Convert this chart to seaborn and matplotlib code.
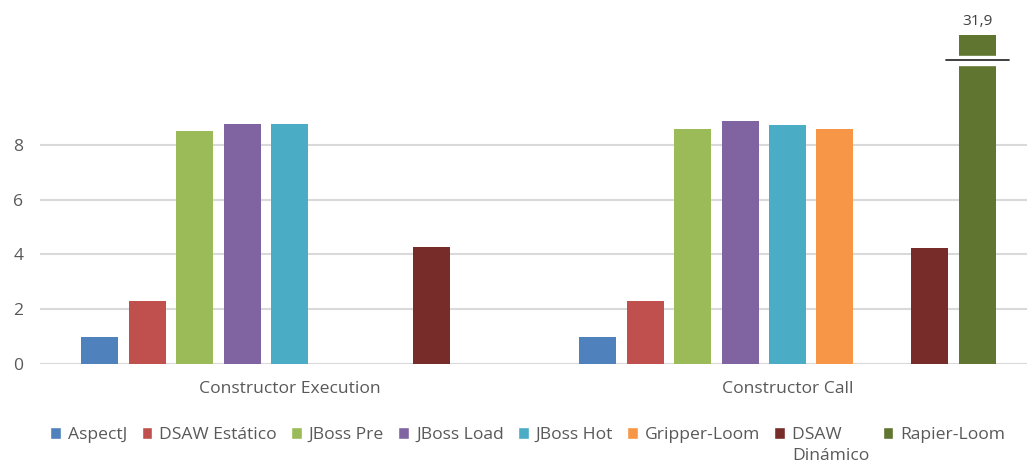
import pandas as pd
import numpy as np
import matplotlib.pyplot as plt
import seaborn as sns
from matplotlib.patches import Patch

# --- data ---
categories = ["Constructor Execution", "Constructor Call"]
series = ["AspectJ", "DSAW Estático", "JBoss Pre", "JBoss Load", "JBoss Hot",
          "Gripper-Loom", "(vacío)", "DSAW Dinámico", "Rapier-Loom"]
aspectj = [1.0, 1.0]
dsaw_estatico = [2.3, 2.3]
jboss_pre = [8.5, 8.57]
jboss_load = [8.77, 8.85]
jboss_hot = [8.74, 8.73]
gripper_loom = [np.nan, 8.56]
empty_slot = [np.nan, np.nan]
dsaw_dinamico = [4.25, 4.22]
rapier_loom = [np.nan, 31.9]

colors = ["#4F81BD", "#C0504D", "#9BBB59", "#8064A2", "#4BACC6",
          "#F79646", "#FFFFFF", "#772C2A", "#5F7530"]
# "DSAW Dinámico" wraps onto two lines; the spaces keep the column as wide as "Dinámico"
legend_labels = ["AspectJ", "DSAW Estático", "JBoss Pre", "JBoss Load", "JBoss Hot",
                 "Gripper-Loom", "DSAW      ", "Rapier-Loom"]

values = [aspectj, dsaw_estatico, jboss_pre, jboss_load, jboss_hot,
          gripper_loom, empty_slot, dsaw_dinamico, rapier_loom]
rows = []
for s, vals in zip(series, values):
    for c, v in zip(categories, vals):
        rows.append({"Test": c, "Serie": s, "Tiempo": v})
df = pd.DataFrame(rows)

sns.set_style("white")
plt.rcParams['font.family'] = ['Open Sans', 'DejaVu Sans']
text_color = "#595959"
fs = 12.6

fig = plt.figure(figsize=(10.27, 4.66), dpi=100)
ax = fig.add_axes([40 / 1027, 102 / 466, 987 / 1027, 329 / 466])

sns.barplot(data=df, x="Test", y="Tiempo", hue="Serie", order=categories,
            hue_order=series, palette=dict(zip(series, colors)),
            width=0.857, gap=0.22, errorbar=None, ax=ax, legend=False,
            saturation=1, linewidth=0)

ax.set_ylim(0, 12)
ax.set_xlim(-0.501, 1.481)
ax.set_yticks([0, 2, 4, 6, 8])
ax.set_xlabel("")
ax.set_ylabel("")
for y in [0, 2, 4, 6, 8]:
    ax.axhline(y, color="#D9D9D9", lw=1.5, zorder=0)
sns.despine(ax=ax, left=True, bottom=True)
ax.tick_params(axis="y", length=0, pad=12, labelsize=fs, labelcolor=text_color)
ax.tick_params(axis="x", length=0, pad=12, labelsize=fs, labelcolor=text_color)

# broken bar for Rapier-Loom (the tallest bar)
rapier_bar = max(ax.patches, key=lambda p: p.get_height())
bx = rapier_bar.get_x()
bw = rapier_bar.get_width()
ax.fill_between([bx - 0.005, bx + bw + 0.005], 10.9, 11.25, color="white", zorder=5)
ax.plot([bx - 0.026, bx + bw + 0.026], [11.07, 11.07], color="#303030", lw=1.3,
        zorder=6, clip_on=False)
ax.text(bx + bw / 2, 12.22, f"{rapier_loom[1]}".replace(".", ","), ha="center",
        va="bottom", fontsize=fs - 1.5, color="#404040", clip_on=False)

handles = [Patch(facecolor=c) for s, c in zip(series, colors) if s != "(vacío)"]
leg = fig.legend(handles, legend_labels, loc="center", bbox_to_anchor=(0.514, 1 - 435 / 466),
                 ncol=8, frameon=False, fontsize=fs, labelcolor=text_color,
                 handlelength=0.62, handleheight=0.62, handletextpad=0.4,
                 columnspacing=0.8, borderaxespad=0)

# second line of the "DSAW Dinámico" label
fig.canvas.draw()
dsaw_txt = leg.get_texts()[6]
bb = dsaw_txt.get_window_extent().transformed(fig.transFigure.inverted())
fig.text(bb.x0, bb.y0 - 0.01, "Dinámico", ha="left", va="top",
         fontsize=fs, color=text_color)

plt.savefig("out.png", dpi=100)
